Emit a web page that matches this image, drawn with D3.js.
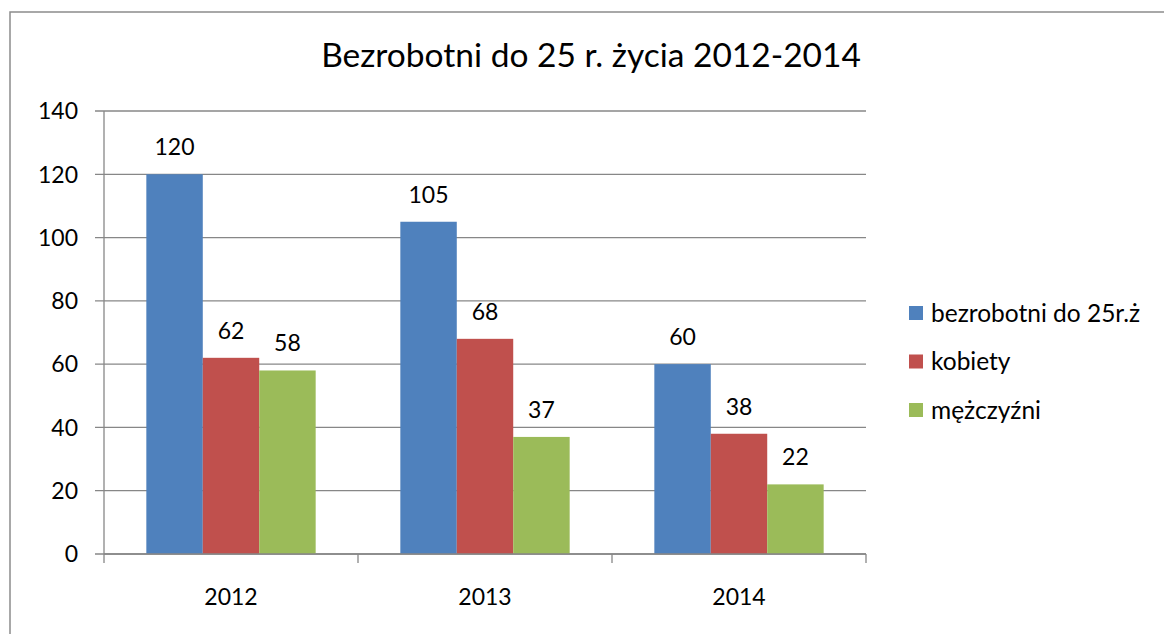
<!DOCTYPE html>
<html><head><meta charset="utf-8">
<script src="https://cdn.jsdelivr.net/npm/d3@7"></script>
<style>body{margin:0;background:#fff}svg{display:block;font-family:Lato,"Liberation Sans",sans-serif}</style>
</head><body><svg id="c" width="1164" height="634"></svg>
<script>
const title = "Bezrobotni do 25 r. życia 2012-2014";
const categories = ["2012", "2013", "2014"];
const seriesNames = ["bezrobotni do 25r.ż", "kobiety", "mężczyźni"];
const seriesColors = ["#4F81BD", "#C0504D", "#9BBB59"];
const bezrobotni = [120, 105, 60];
const kobiety = [62, 68, 38];
const mezczyzni = [58, 37, 22];
const yTicks = [0, 20, 40, 60, 80, 100, 120, 140];
const series = [bezrobotni, kobiety, mezczyzni];

const svg = d3.select("#c");
const L = 104, R = 866, T = 111, B = 554;

svg.append("rect").attr("x", 10).attr("y", 12).attr("width", 1300).attr("height", 800)
  .attr("fill", "#fff").attr("stroke", "#8c8c8c").attr("stroke-width", 1.5);

svg.append("text").attr("x", 591).attr("y", 67).attr("text-anchor", "middle")
  .attr("font-size", 33.5).attr("fill", "#000").text(title);

const y = d3.scaleLinear().domain([0, 140]).range([B, T]);
const x0 = d3.scaleBand().domain(categories).range([L, R]).padding(0);
const x1 = d3.scaleBand().domain(d3.range(series.length)).range([0, x0.bandwidth()])
  .paddingInner(0).paddingOuter(0.75);

svg.append("g").selectAll("line").data(yTicks).join("line")
  .attr("x1", L - 9).attr("x2", R).attr("y1", d => y(d)).attr("y2", d => y(d))
  .attr("stroke", "#878787").attr("stroke-width", 1.3);

svg.append("g").selectAll("text").data(yTicks).join("text")
  .attr("x", 78).attr("y", d => y(d)).attr("dy", "0.36em").attr("text-anchor", "end")
  .attr("font-size", 23).attr("fill", "#000").text(d => d);

svg.append("line").attr("x1", L).attr("x2", L).attr("y1", T).attr("y2", B)
  .attr("stroke", "#878787").attr("stroke-width", 1.3);

const g = svg.append("g");
series.forEach((vals, si) => {
  g.append("g").selectAll("rect").data(categories).join("rect")
    .attr("x", (c) => x0(c) + x1(si))
    .attr("width", x1.bandwidth())
    .attr("y", (c, i) => y(vals[i]))
    .attr("height", (c, i) => y(0) - y(vals[i]))
    .attr("fill", seriesColors[si]);
  g.append("g").selectAll("text").data(categories).join("text")
    .attr("x", (c) => x0(c) + x1(si) + x1.bandwidth() / 2)
    .attr("y", (c, i) => y(vals[i]) - 19)
    .attr("text-anchor", "middle").attr("font-size", 23).attr("fill", "#000")
    .text((c, i) => vals[i]);
});

svg.append("line").attr("x1", L).attr("x2", R).attr("y1", B).attr("y2", B)
  .attr("stroke", "#878787").attr("stroke-width", 1.3);
const bounds = categories.map(c => x0(c)).concat([x0(categories[categories.length - 1]) + x0.bandwidth()]);
svg.append("g").selectAll("line").data(bounds).join("line")
  .attr("x1", d => d).attr("x2", d => d).attr("y1", B).attr("y2", B + 9)
  .attr("stroke", "#878787").attr("stroke-width", 1.3);
svg.append("g").selectAll("text").data(categories).join("text")
  .attr("x", c => x0(c) + x0.bandwidth() / 2).attr("y", 605).attr("text-anchor", "middle")
  .attr("font-size", 23).attr("fill", "#000").text(c => c);

const lg = svg.append("g").selectAll("g").data(seriesNames).join("g")
  .attr("transform", (d, i) => `translate(909, ${313 + i * 48.5})`);
lg.append("rect").attr("x", 0).attr("y", -7).attr("width", 14).attr("height", 14)
  .attr("fill", (d, i) => seriesColors[i]);
lg.append("text").attr("x", 22).attr("y", 0).attr("dy", "0.36em")
  .attr("font-size", 24.5).attr("fill", "#000").text(d => d);
</script></body></html>
